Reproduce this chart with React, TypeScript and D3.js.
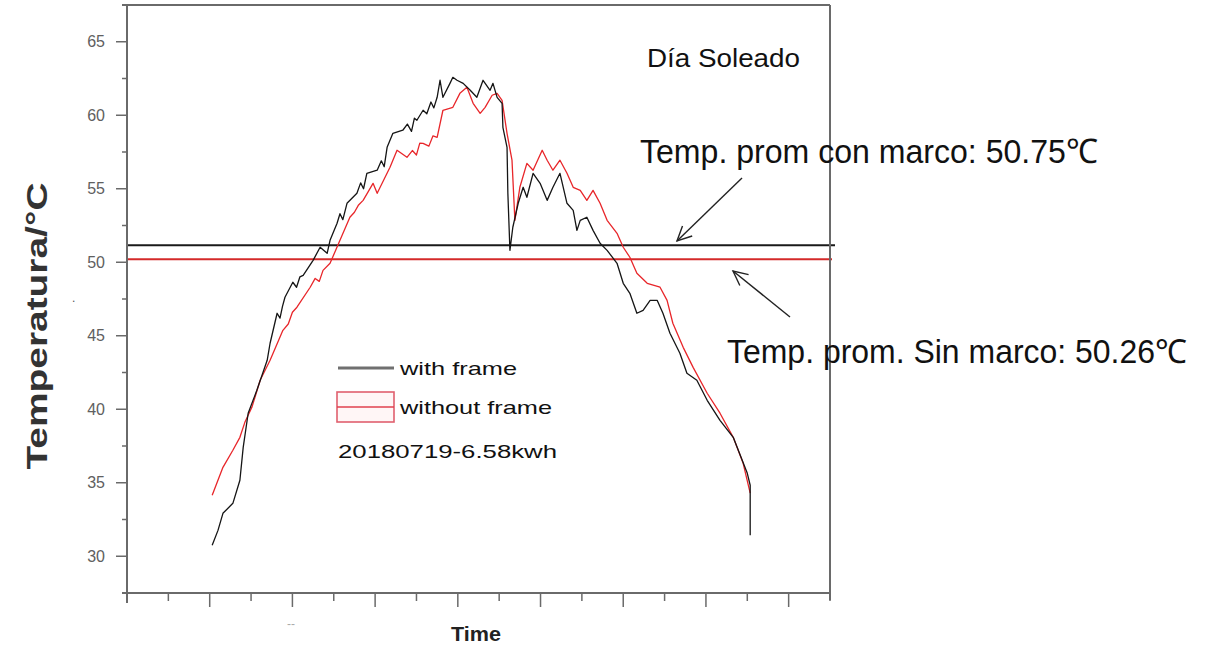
import React from "react";
import * as d3 from "d3";

// ---- data ----
const withFrameTime = [2.06,2.2,2.32,2.56,2.73,2.81,2.93,3.14,3.39,3.46,3.63,3.7,3.76,3.82,4.01,4.1,4.18,4.26,4.5,4.67,4.84,4.91,5.08,5.15,5.22,5.32,5.56,5.65,5.72,5.8,6.05,6.15,6.22,6.29,6.43,6.67,6.78,6.88,6.95,7.01,7.16,7.25,7.35,7.42,7.5,7.57,7.64,7.81,7.88,7.98,8.13,8.3,8.46,8.61,8.78,8.85,8.95,9.07,9.09,9.19,9.21,9.26,9.33,9.46,9.58,9.67,9.82,9.99,10.16,10.3,10.47,10.64,10.79,10.88,10.96,11.12,11.27,11.44,11.61,11.85,12.0,12.16,12.33,12.48,12.65,12.82,12.96,13.13,13.37,13.54,13.78,14.03,14.34,14.66,15.0,15.07,15.07];
const withFrameTemp = [30.75,31.76,32.92,33.6,35.17,37.41,39.73,41.29,43.33,44.49,46.53,46.2,47.0,47.62,48.64,48.3,49.0,49.11,50.13,51.02,50.61,51.49,52.65,53.3,52.9,54.01,54.69,55.4,55.0,56.05,56.26,56.9,56.5,57.82,58.77,58.98,59.4,58.9,59.8,59.66,60.34,60.1,60.9,60.5,61.22,62.38,61.22,62.17,62.58,62.38,62.17,61.7,61.22,62.38,61.7,62.17,61.22,60.81,59.18,57.82,54.69,50.81,52.38,54.01,55.1,54.42,56.05,55.37,54.21,55.1,56.05,54.01,53.53,52.17,52.85,53.06,52.17,51.29,50.81,49.93,48.57,47.89,46.53,46.73,47.41,47.41,46.53,45.17,43.81,42.45,41.97,40.61,39.25,38.09,35.64,34.83,31.43];

const withoutFrameTime = [2.06,2.32,2.56,2.73,2.85,3.02,3.22,3.46,3.77,3.9,4.0,4.11,4.43,4.55,4.65,4.74,4.91,5.15,5.39,5.5,5.6,5.71,5.95,6.05,6.36,6.53,6.77,6.9,7.0,7.08,7.16,7.3,7.4,7.5,7.64,7.88,8.05,8.22,8.37,8.54,8.66,8.83,8.95,9.07,9.19,9.31,9.38,9.5,9.67,9.82,10.04,10.16,10.3,10.47,10.64,10.79,10.96,11.12,11.27,11.44,11.61,11.85,12.0,12.16,12.33,12.58,12.89,13.06,13.2,13.45,13.69,14.03,14.34,14.66,14.9,15.07];
const withoutFrameTemp = [34.15,36.05,37.21,38.09,39.11,40.13,41.97,43.33,45.37,45.8,46.6,46.94,48.3,48.9,48.7,49.45,49.93,51.49,53.06,53.4,53.9,54.21,55.37,54.69,56.46,57.62,57.14,57.6,57.3,58.1,58.09,57.9,58.6,58.5,60.34,60.54,61.49,61.9,60.81,60.13,60.54,61.36,61.49,61.02,58.77,56.94,52.85,55.1,56.73,56.26,57.62,56.94,56.26,56.94,56.05,55.1,54.89,54.21,54.89,54.01,52.85,51.97,51.02,50.34,49.25,48.57,48.3,47.41,45.85,44.21,42.85,41.09,39.73,38.09,36.32,34.29];

const meanWithFrame = 51.15; // drawn position of the 50.75 °C line
const meanWithoutFrame = 50.2; // drawn position of the 50.26 °C line

const yTickValues = [30, 35, 40, 45, 50, 55, 60, 65];
const yMinorTicks = [32.5, 37.5, 42.5, 47.5, 52.5, 57.5, 62.5];
const xMajorTicks = [2, 4, 6, 8, 10, 12, 14, 16];
const xMinorTicks = [0, 1, 3, 5, 7, 9, 11, 13, 15, 17];

const legendLabels = ["with frame", "without frame"];
const legendNote = "20180719-6.58kwh";
const title = "Día Soleado";
const annotWith = "Temp. prom con marco: 50.75\u2103";
const annotWithout = "Temp. prom. Sin marco: 50.26\u2103";

const FONT = "'Liberation Sans', Arial, sans-serif";

export default function App() {
  const left = 127, right = 830, top = 5, bottom = 593;
  const x = d3.scaleLinear().domain([0, 17]).range([left, right]);
  const y = d3.scaleLinear().domain([27.5, 67.5]).range([bottom, top]);

  const line = d3
    .line<[number, number]>()
    .x((d) => x(d[0]))
    .y((d) => y(d[1]));

  const blackPts: [number, number][] = withFrameTime.map((t, i) => [t, withFrameTemp[i]]);
  const redPts: [number, number][] = withoutFrameTime.map((t, i) => [t, withoutFrameTemp[i]]);

  const axisColor = "#6a6a6a";

  const arrowHead = (x1: number, y1: number, x2: number, y2: number) => {
    const ang = Math.atan2(y2 - y1, x2 - x1);
    const L = 16, a = 0.45;
    const p1 = [x2 - L * Math.cos(ang - a), y2 - L * Math.sin(ang - a)];
    const p2 = [x2 - L * Math.cos(ang + a), y2 - L * Math.sin(ang + a)];
    return `M${p1[0]},${p1[1]} L${x2},${y2} L${p2[0]},${p2[1]}`;
  };

  return (
    <svg
      width={1218}
      height={647}
      style={{ position: "absolute", left: 0, top: 0, background: "#fff" }}
      fontFamily={FONT}
    >
      <rect x={0} y={0} width={1218} height={647} fill="#fff" />

      {/* mean lines */}
      <line x1={left} x2={835} y1={y(meanWithFrame)} y2={y(meanWithFrame)} stroke="#1a1a1a" strokeWidth={2} />
      <line x1={left} x2={832} y1={y(meanWithoutFrame)} y2={y(meanWithoutFrame)} stroke="#d42a2a" strokeWidth={2} />

      {/* series */}
      <path d={line(redPts) || ""} fill="none" stroke="#e8262a" strokeWidth={1.3} strokeLinejoin="round" />
      <path d={line(blackPts) || ""} fill="none" stroke="#151515" strokeWidth={1.3} strokeLinejoin="round" />

      {/* frame */}
      <line x1={122} x2={right} y1={top} y2={top} stroke={axisColor} strokeWidth={2} />
      <line x1={right} x2={right} y1={top} y2={600} stroke={axisColor} strokeWidth={2} />
      <line x1={left} x2={left} y1={top} y2={603} stroke={axisColor} strokeWidth={2} />
      <line x1={122} x2={right} y1={bottom} y2={bottom} stroke={axisColor} strokeWidth={2} />

      {/* y ticks */}
      {yTickValues.map((v) => (
        <g key={"y" + v}>
          <line x1={left - 11} x2={left} y1={y(v)} y2={y(v)} stroke={axisColor} strokeWidth={1.5} />
          <text x={105} y={y(v)} dy="0.35em" textAnchor="end" fontSize={16} fill="#606060">
            {v}
          </text>
        </g>
      ))}
      {yMinorTicks.map((v) => (
        <line key={"ym" + v} x1={left - 5} x2={left} y1={y(v)} y2={y(v)} stroke={axisColor} strokeWidth={1.5} />
      ))}

      {/* x ticks */}
      {xMajorTicks.map((v) => (
        <line key={"x" + v} x1={x(v)} x2={x(v)} y1={bottom} y2={bottom + 14} stroke={axisColor} strokeWidth={1.5} />
      ))}
      {xMinorTicks.map((v) => (
        <line key={"xm" + v} x1={x(v)} x2={x(v)} y1={bottom} y2={bottom + 8} stroke={axisColor} strokeWidth={1.5} />
      ))}

      {/* axis titles */}
      <text
        transform="translate(47,326) rotate(-90)"
        textAnchor="middle"
        fontSize={30}
        fontWeight="bold"
        fill="#333"
        textLength={287}
        lengthAdjust="spacingAndGlyphs"
      >
        Temperatura/°C
      </text>
      <text x={72} y={302} fontSize={12} fill="#555">.</text>
      <text x={476} y={641} textAnchor="middle" fontSize={20} fontWeight="bold" fill="#222" textLength={50} lengthAdjust="spacingAndGlyphs">
        Time
      </text>
      <text x={291} y={628} textAnchor="middle" fontSize={12} fill="#aaa">--</text>

      {/* legend */}
      <line x1={338} x2={394} y1={368} y2={368} stroke="#707070" strokeWidth={3} />
      <text x={400} y={375} fontSize={19} fill="#111" textLength={117} lengthAdjust="spacingAndGlyphs">{legendLabels[0]}</text>
      <rect x={337} y={392} width={57} height={30} fill="#fff6f6" stroke="#e0606e" strokeWidth={1.6} />
      <line x1={337} x2={394} y1={407} y2={407} stroke="#e0404e" strokeWidth={1.6} />
      <text x={400} y={414} fontSize={19} fill="#111" textLength={152} lengthAdjust="spacingAndGlyphs">{legendLabels[1]}</text>
      <text x={338} y={458} fontSize={18} fill="#111" textLength={219} lengthAdjust="spacingAndGlyphs">{legendNote}</text>

      {/* title */}
      <text x={647} y={67} fontSize={25} fill="#111" textLength={153} lengthAdjust="spacingAndGlyphs">{title}</text>

      {/* annotations */}
      <text x={640} y={163} fontSize={34} fill="#111" textLength={458} lengthAdjust="spacingAndGlyphs">{annotWith}</text>
      <text x={727} y={363} fontSize={33} fill="#111" textLength={460} lengthAdjust="spacingAndGlyphs">{annotWithout}</text>

      <line x1={742} y1={178} x2={677} y2={241} stroke="#222" strokeWidth={1.4} />
      <path d={arrowHead(742, 178, 677, 241)} fill="none" stroke="#222" strokeWidth={1.4} />
      <line x1={790} y1={317} x2={733} y2={271} stroke="#222" strokeWidth={1.4} />
      <path d={arrowHead(790, 317, 733, 271)} fill="none" stroke="#222" strokeWidth={1.4} />
    </svg>
  );
}
